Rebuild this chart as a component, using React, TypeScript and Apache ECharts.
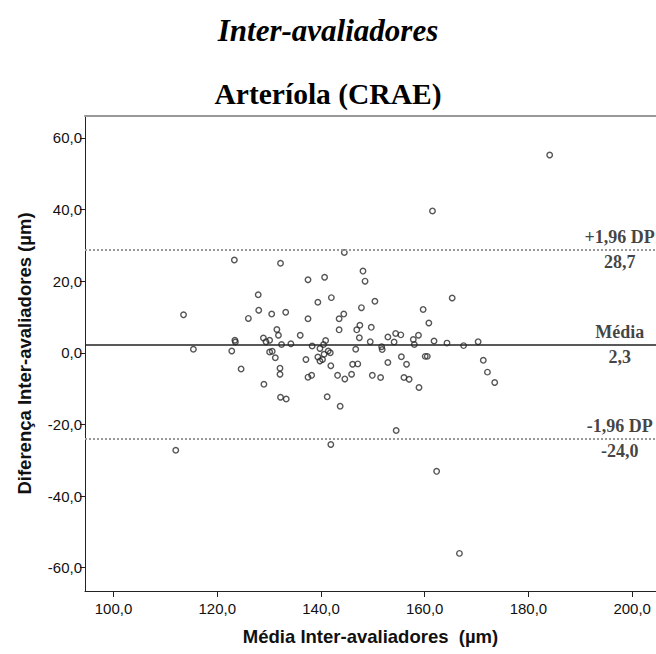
import React, { useEffect, useRef } from "react";
import * as echarts from "echarts";

// Mean of the two raters (x) and difference between raters (y), in µm
const meanValues = [
  123.3, 132.2, 161.5, 144.5, 137.5, 140.7, 148.1, 148.5, 184.1, 113.5,
  115.4, 112.0, 127.9, 128.0, 126.0, 130.5, 131.5, 131.8, 123.4, 123.5,
  122.8, 128.9, 129.4, 130.1, 130.1, 130.6, 131.2, 124.6, 132.1, 132.1,
  129.0, 132.2, 142.0, 139.4, 150.4, 165.3, 147.8, 133.2, 137.5, 144.4,
  143.5, 159.7, 160.8, 136.0, 143.5, 146.9, 147.5, 149.7, 147.4, 140.9,
  140.5, 149.5, 152.9, 154.4, 155.4, 154.1, 157.8, 158.8, 158.0, 161.8,
  164.3, 167.5, 132.4, 134.2, 138.3, 139.8, 141.4, 141.8, 140.6, 151.7,
  151.8, 146.7, 137.1, 139.4, 139.8, 140.3, 141.9, 146.1, 147.1, 152.9,
  155.5, 156.5, 160.1, 160.5, 137.5, 138.2, 143.2, 144.6, 145.9, 149.9,
  151.5, 156.0, 157.0, 158.9, 133.3, 141.2, 143.7, 154.5, 141.9, 170.3,
  171.3, 172.1, 173.5, 162.3, 166.7,
];
const diffValues = [
  25.9, 25.0, 39.6, 28.0, 20.4, 21.1, 22.8, 20.0, 55.2, 10.6,
  1.0, -27.2, 16.2, 11.9, 9.6, 10.8, 6.5, 4.9, 3.5, 3.0,
  0.5, 4.1, 3.1, 3.5, 0.2, 0.4, -1.4, -4.5, -4.3, -6.0,
  -8.8, -12.4, 15.4, 14.1, 14.4, 15.3, 12.6, 11.3, 9.5, 10.8,
  9.5, 12.1, 8.3, 4.9, 6.4, 6.4, 7.7, 7.1, 4.2, 3.4,
  2.3, 3.1, 4.4, 5.4, 5.0, 3.0, 3.7, 4.9, 2.3, 3.3,
  2.7, 2.0, 2.3, 2.5, 1.9, 1.2, 0.5, 0.0, -0.4, 1.7,
  0.9, 1.0, -1.9, -1.2, -2.3, -1.9, -3.6, -3.2, -3.1, -2.7,
  -1.1, -3.2, -1.0, -1.0, -6.8, -6.3, -6.3, -7.3, -6.0, -6.3,
  -6.9, -6.9, -7.4, -9.7, -12.9, -12.3, -14.9, -21.7, -25.6, 3.1,
  -2.1, -5.4, -8.3, -33.1, -56.0,
];

const limitValues = [28.7, 2.3, -24.0];
const limitNames = ["+1,96 DP", "Média", "-1,96 DP"];
const xTicks = [100, 120, 140, 160, 180, 200];
const yTicks = [-60, -40, -20, 0, 20, 40, 60];

const LABEL_X = 197.6;

const fmt = (v: number) => v.toFixed(1).replace(".", ",");

export default function App() {
  const ref = useRef<HTMLDivElement>(null);

  useEffect(() => {
    if (!ref.current) return;
    const chart = echarts.init(ref.current, null, { renderer: "svg" });

    const points = meanValues.map((m, i) => [m, diffValues[i]]);

    const labelData: any[] = [];
    limitValues.forEach((v, i) => {
      labelData.push({
        value: [LABEL_X, v],
        label: { show: true, position: "top", distance: 3, formatter: limitNames[i] },
      });
      labelData.push({
        value: [LABEL_X, v],
        label: { show: true, position: "bottom", distance: 3, formatter: fmt(v) },
      });
    });

    const dotted = { type: [2, 2] as any, color: "#999", width: 2 };

    chart.setOption({
      animation: false,
      backgroundColor: "#ffffff",
      title: [
        {
          text: "Inter-avaliadores",
          left: "center",
          top: 10,
          textStyle: {
            fontFamily: "Liberation Serif",
            fontStyle: "italic",
            fontWeight: "bold",
            fontSize: 31,
            color: "#000",
          },
        },
        {
          text: "Arteríola (CRAE)",
          left: "center",
          top: 74,
          textStyle: {
            fontFamily: "Liberation Serif",
            fontWeight: "bold",
            fontSize: 29.5,
            color: "#000",
          },
        },
      ],
      grid: { left: 85, right: 0, top: 116, bottom: 63, containLabel: false },
      xAxis: [
        {
          type: "value",
          min: 94.5,
          max: 204.6,
          position: "bottom",
          name: "Média Inter-avaliadores  (µm)",
          nameLocation: "middle",
          nameGap: 36,
          nameTextStyle: {
            fontFamily: "Liberation Sans",
            fontWeight: "bold",
            fontSize: 18.5,
            color: "#111",
          },
          axisLine: { show: true, onZero: false, lineStyle: { color: "#222", width: 1 } },
          axisTick: { show: true, length: 6, customValues: xTicks, lineStyle: { color: "#222" } },
          axisLabel: {
            customValues: xTicks,
            formatter: (v: number) => fmt(v),
            fontFamily: "Liberation Sans",
            fontSize: 15,
            color: "#111",
            margin: 10,
          },
          splitLine: { show: false },
        },
        {
          type: "value",
          min: 94.5,
          max: 204.6,
          position: "top",
          axisLine: { show: true, onZero: false, lineStyle: { color: "#999", width: 2 } },
          axisTick: { show: false },
          axisLabel: { show: false },
          splitLine: { show: false },
        },
      ],
      yAxis: {
        type: "value",
        min: -66.5,
        max: 66.1,
        name: "Diferença Inter-avaliadores (µm)",
        nameLocation: "middle",
        nameGap: 51,
        nameRotate: 90,
        nameTextStyle: {
          fontFamily: "Liberation Sans",
          fontWeight: "bold",
          fontSize: 18.5,
          color: "#111",
        },
        axisLine: { show: true, onZero: false, lineStyle: { color: "#222", width: 1 } },
        axisTick: { show: true, length: 5, customValues: yTicks, lineStyle: { color: "#222" } },
        axisLabel: {
          customValues: yTicks,
          formatter: (v: number) => fmt(v),
          fontFamily: "Liberation Sans",
          fontSize: 15,
          color: "#111",
          margin: 3,
        },
        splitLine: { show: false },
      },
      series: [
        {
          type: "scatter",
          data: points,
          symbol: "circle",
          symbolSize: 5.5,
          itemStyle: { color: "rgba(255,255,255,0)", borderColor: "#2a2a2a", borderWidth: 1.4 },
          silent: true,
          markLine: {
            silent: true,
            symbol: ["none", "none"],
            label: { show: false },
            data: [
              { yAxis: limitValues[0], lineStyle: dotted },
              { yAxis: limitValues[1], lineStyle: { type: "solid", color: "#222", width: 1.6 } },
              { yAxis: limitValues[2], lineStyle: dotted },
            ],
          },
        },
        {
          type: "scatter",
          data: labelData,
          symbol: "circle",
          symbolSize: 1,
          silent: true,
          itemStyle: { color: "rgba(0,0,0,0)" },
          label: {
            fontFamily: "Liberation Serif",
            fontWeight: "bold",
            fontSize: 18,
            color: "#111",
          },
        },
      ],
    });

    return () => chart.dispose();
  }, []);

  return (
    <div
      ref={ref}
      style={{ position: "fixed", left: 0, top: 0, width: 656, height: 654, background: "#fff" }}
    />
  );
}
